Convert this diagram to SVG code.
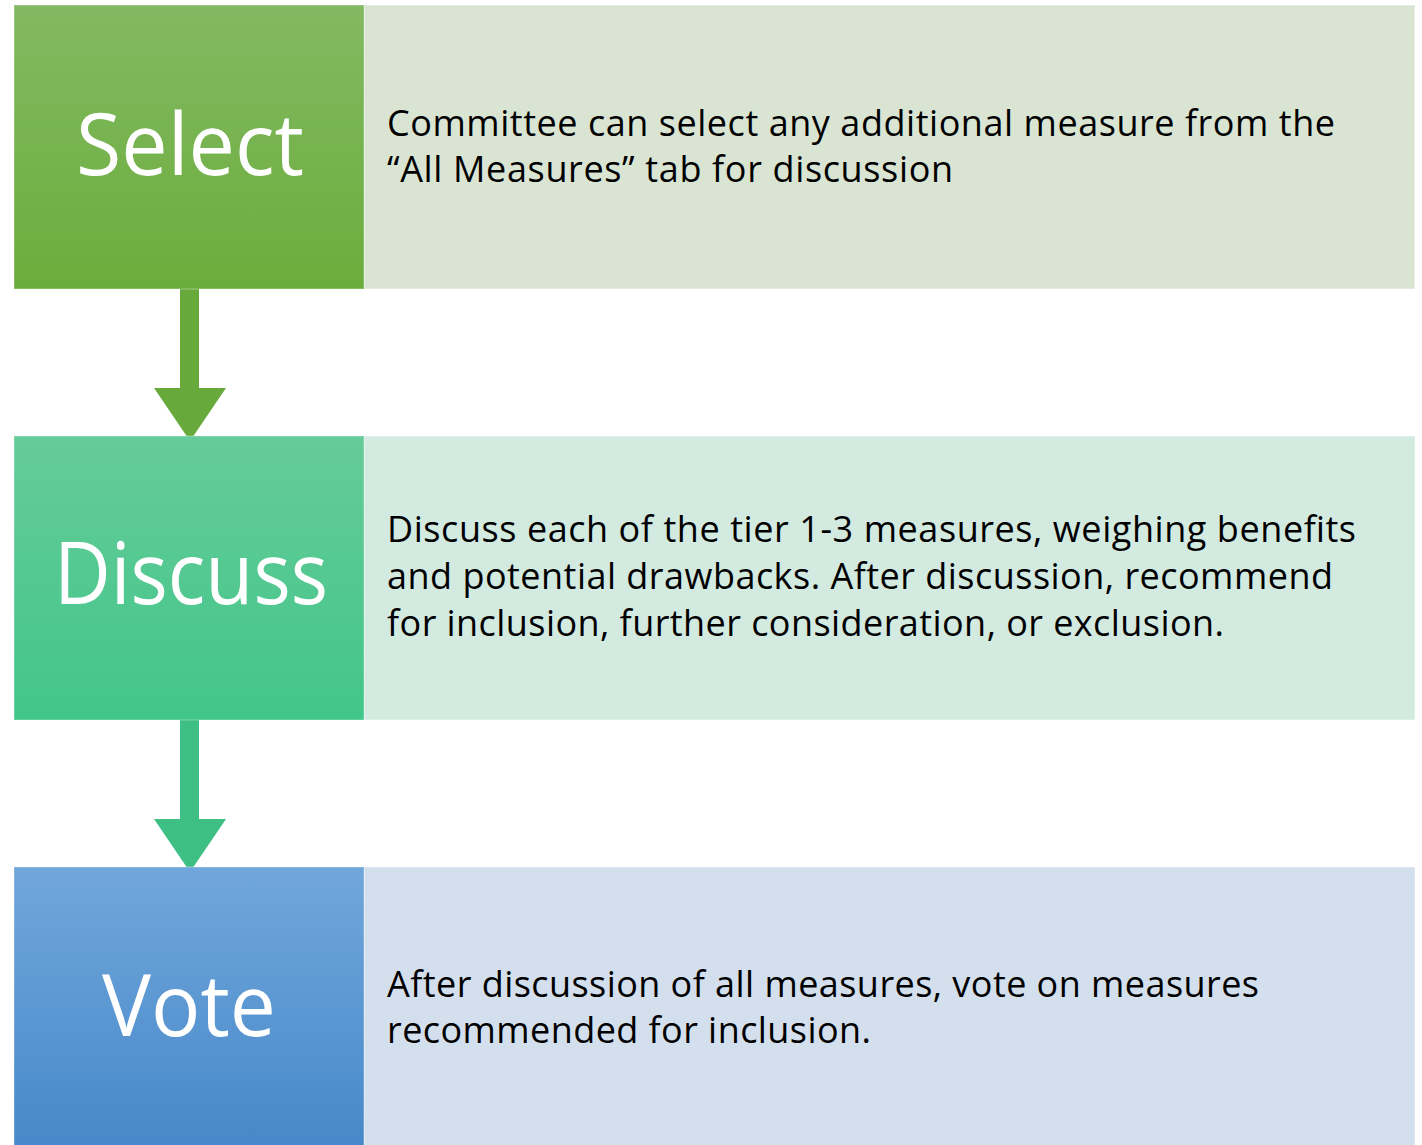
<svg xmlns="http://www.w3.org/2000/svg" width="1422" height="1145" viewBox="0 0 1422 1145">
  <defs>
    <linearGradient id="gSelect" x1="0" y1="0" x2="0" y2="1">
      <stop offset="0" stop-color="#83b962"/>
      <stop offset="1" stop-color="#6bad3c"/>
    </linearGradient>
    <linearGradient id="gDiscuss" x1="0" y1="0" x2="0" y2="1">
      <stop offset="0" stop-color="#66cb99"/>
      <stop offset="1" stop-color="#42c68a"/>
    </linearGradient>
    <linearGradient id="gVote" x1="0" y1="0" x2="0" y2="1">
      <stop offset="0" stop-color="#71a7db"/>
      <stop offset="1" stop-color="#4587c9"/>
    </linearGradient>
    <style>
      .step { stroke: #ffffff; stroke-opacity: 0.35; stroke-width: 1; }
      .panel { stroke: #ffffff; stroke-opacity: 0.5; stroke-width: 1; }
      .title { font-family: "Open Sans", "Noto Sans", "Liberation Sans", sans-serif; font-size: 86px; fill: #ffffff; text-anchor: middle; }
      .body { font-family: "Open Sans", "Noto Sans", "Liberation Sans", sans-serif; font-size: 36px; fill: #000000; }
    </style>
  </defs>
  <rect width="1422" height="1145" fill="#ffffff"/>

  <!-- connectors between steps -->
  <g id="connectors">
    <polygon points="180,289 199,289 199,388 226,388 190,441 154,388 180,388" fill="#68a93c"/>
    <polygon points="180,720 199,720 199,819 226,819 190,872 154,819 180,819" fill="#3ebf84"/>
  </g>

  <!-- Step 1 -->
  <g id="select">
    <rect class="panel" x="364" y="5" width="1051" height="284" fill="#d9e4d3"/>
    <rect class="step" x="14" y="5" width="350" height="284" fill="url(#gSelect)"/>
    <text class="title" x="190" y="175" textLength="228" lengthAdjust="spacingAndGlyphs">Select</text>
    <text class="body" x="387" y="136" textLength="948">Committee can select any additional measure from the</text>
    <text class="body" x="387" y="182" textLength="566">“All Measures” tab for discussion</text>
  </g>

  <!-- Step 2 -->
  <g id="discuss">
    <rect class="panel" x="364" y="436" width="1051" height="284" fill="#d3eae1"/>
    <rect class="step" x="14" y="436" width="350" height="284" fill="url(#gDiscuss)"/>
    <text class="title" x="191" y="604" textLength="274" lengthAdjust="spacingAndGlyphs">Discuss</text>
    <text class="body" x="387" y="542" textLength="969">Discuss each of the tier 1-3 measures, weighing benefits</text>
    <text class="body" x="387" y="589" textLength="946">and potential drawbacks. After discussion, recommend</text>
    <text class="body" x="387" y="636" textLength="837">for inclusion, further consideration, or exclusion.</text>
  </g>

  <!-- Step 3 -->
  <g id="vote">
    <rect class="panel" x="364" y="867" width="1051" height="290" fill="#d3dfed"/>
    <rect class="step" x="14" y="867" width="350" height="290" fill="url(#gVote)"/>
    <text class="title" x="189" y="1036" textLength="174" lengthAdjust="spacingAndGlyphs">Vote</text>
    <text class="body" x="387" y="997" textLength="872">After discussion of all measures, vote on measures</text>
    <text class="body" x="387" y="1043" textLength="484">recommended for inclusion.</text>
  </g>
</svg>
